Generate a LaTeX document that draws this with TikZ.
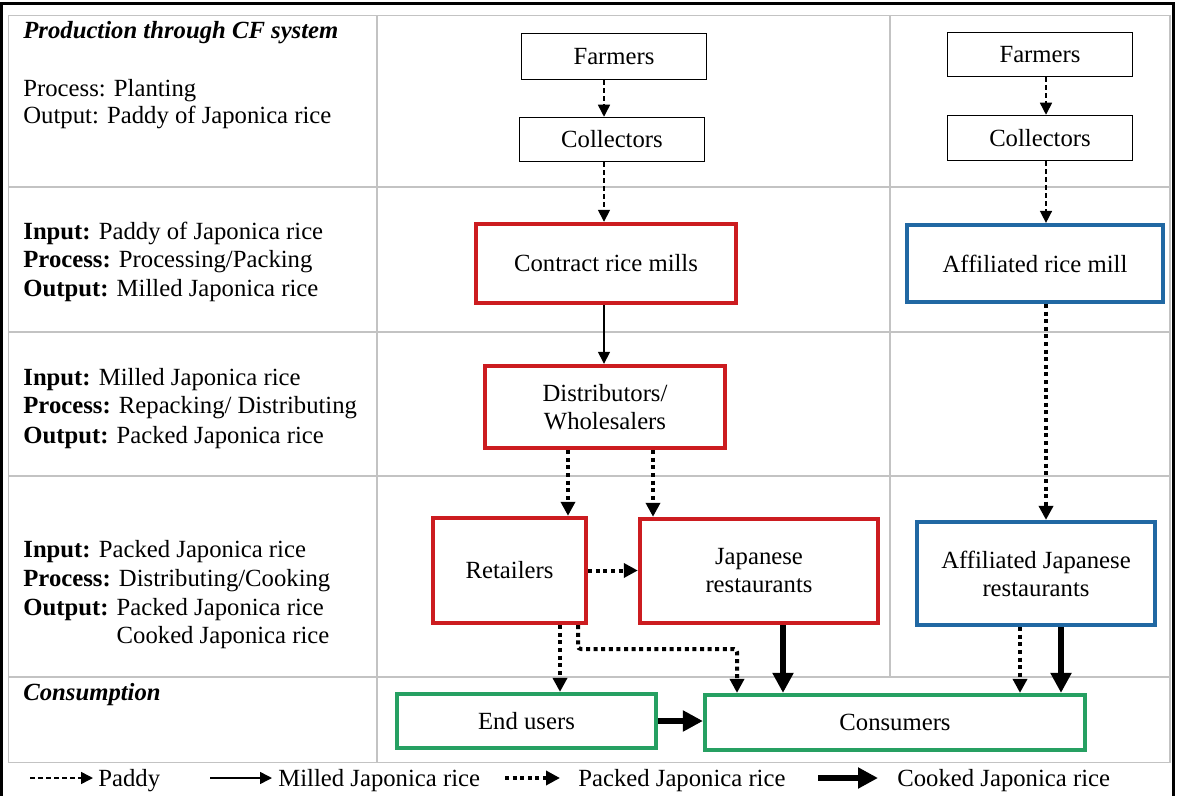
\documentclass[tikz,border=0pt]{standalone}
\usepackage{fontspec}
\setmainfont{Liberation Serif}
\usetikzlibrary{arrows.meta}
\definecolor{millred}{RGB}{204,28,32}
\definecolor{affblue}{RGB}{33,104,163}
\definecolor{endgreen}{RGB}{38,160,98}
\definecolor{gridgray}{RGB}{195,195,195}

\begin{document}
\begin{tikzpicture}[x=0.5pt,y=-0.5pt,
  font=\fontsize{12.35pt}{14pt}\selectfont,
  sz/.style 2 args={minimum width=#1*0.5pt, minimum height=#2*0.5pt},
  plainbox/.style={draw=black, line width=0.75pt, inner sep=0pt, align=center},
  redbox/.style={draw=millred, line width=2.2pt, inner sep=0pt, align=center},
  bluebox/.style={draw=affblue, line width=2.1pt, inner sep=0pt, align=center},
  greenbox/.style={draw=endgreen, line width=2.1pt, inner sep=0pt, align=center},
  rowtext/.style={anchor=base west, inner sep=0pt},
  paddy/.style={line width=0.75pt, dash pattern=on 2.5pt off 1.5pt, -{Triangle[length=6pt,width=6pt]}},
  milled/.style={line width=0.75pt, -{Triangle[length=6pt,width=6pt]}},
  packed/.style={line width=2pt, dash pattern=on 2pt off 1.8pt, -{Triangle[length=7pt,width=7pt]}},
  cooked/.style={line width=3.3pt, -{Triangle[length=10pt,width=10pt]}},
]
\useasboundingbox (0,0) rectangle (1177,796);
\fill[white] (0,0) rectangle (1177,796);

% outer frame
\draw[line width=1.5pt] (1.5,3.7) rectangle (1173,830);

% table grid
\begin{scope}[draw=gridgray, line width=0.75pt]
  \draw (8.5,15.5) rectangle (1170,762.5);
  \draw (377,15.5) -- (377,762.5);
  \draw (890,15.5) -- (890,677);
  \foreach \yy in {187,332,476,677} \draw (8.5,\yy) -- (1170,\yy);
\end{scope}

% stage descriptions
\node[rowtext] (r1t) at (23,39) {\textbf{\textit{Production through CF system}}};
\node[rowtext] (r1a) at (23,97) {Process: Planting};
\node[rowtext] (r1b) at (23,124) {Output: Paddy of Japonica rice};

\node[rowtext] (r2a) at (23,240) {\textbf{Input:} Paddy of Japonica rice};
\node[rowtext] (r2b) at (23,268) {\textbf{Process:} Processing/Packing};
\node[rowtext] (r2c) at (23,297) {\textbf{Output:} Milled Japonica rice};

\node[rowtext] (r3a) at (23,386) {\textbf{Input:} Milled Japonica rice};
\node[rowtext] (r3b) at (23,414) {\textbf{Process:} Repacking/ Distributing};
\node[rowtext] (r3c) at (23,443) {\textbf{Output:} Packed Japonica rice};

\node[rowtext] (r4a) at (23,557) {\textbf{Input:} Packed Japonica rice};
\node[rowtext] (r4b) at (23,586) {\textbf{Process:} Distributing/Cooking};
\node[rowtext] (r4c) at (23,615) {\textbf{Output:} Packed Japonica rice};
\node[rowtext] (r4d) at (23,643) {\phantom{\textbf{Output:} }Cooked Japonica rice};

\node[rowtext] (r5t) at (23,700) {\textbf{\textit{Consumption}}};

% contract-farming chain
\node[plainbox, sz={185}{46}] (farmL) at (614,56.5) {Farmers};
\node[plainbox, sz={185}{44}] (collL) at (612,139.5) {Collectors};
\node[redbox, sz={260}{79}] (mill) at (606,263.5) {Contract rice mills};
\node[redbox, sz={240}{82}] (dist) at (605,407) {Distributors/\\Wholesalers};
\node[redbox, sz={153}{105}] (retail) at (509.5,570.5) {Retailers};
\node[redbox, sz={238}{104}] (japan) at (759,571) {Japanese\\restaurants};

% affiliated chain
\node[plainbox, sz={185}{44}] (farmR) at (1040,54.5) {Farmers};
\node[plainbox, sz={185}{45}] (collR) at (1040,138) {Collectors};
\node[bluebox, sz={256}{77}] (affmill) at (1035,263.5) {Affiliated rice mill};
\node[bluebox, sz={238}{103}] (affjr) at (1036,573.5) {Affiliated Japanese\\restaurants};

% consumption
\node[greenbox, sz={259}{54}] (endu) at (526.5,721) {End users};
\node[greenbox, sz={380}{55}] (cons) at (895,722.5) {Consumers};

% trunk positions of the connectors
\coordinate (xa) at (604,0);
\coordinate (xb) at (1046,0);
\coordinate (xr) at (568,0);
\coordinate (xj) at (653,0);
\coordinate (xe) at (560,0);
\coordinate (xc) at (783,0);
\coordinate (xd) at (1020,0);
\coordinate (xf) at (1061,0);
\coordinate (k1) at (578,649);
\coordinate (k2) at (737,649);

% contract-farming flows
\draw[paddy] (farmL.south -| xa) -- (collL.north -| xa);
\draw[paddy] (collL.south -| xa) -- (mill.north -| xa);
\draw[milled] (mill.south -| xa) -- (dist.north -| xa);
\draw[packed] (dist.south -| xr) -- (retail.north -| xr);
\draw[packed] (dist.south -| xj) -- (japan.north -| xj);
\draw[packed] (retail.east) -- (japan.west |- retail.east);
\draw[packed] (retail.south -| xe) -- (endu.north -| xe);
\draw[packed, rounded corners=1.5pt] (retail.south -| k1) -- (k1) -- (k2) -- (cons.north -| k2);
\draw[cooked] (japan.south -| xc) -- (cons.north -| xc);
\draw[cooked] (endu.east) -- (cons.west |- endu.east);

% affiliated flows
\draw[paddy] (farmR.south -| xb) -- (collR.north -| xb);
\draw[paddy] (collR.south -| xb) -- (affmill.north -| xb);
\draw[packed] (affmill.south -| xb) -- (affjr.north -| xb);
\draw[packed] (affjr.south -| xd) -- (cons.north -| xd);
\draw[cooked] (affjr.south -| xf) -- (cons.north -| xf);

% legend
\coordinate (l1s) at (30,778);  \coordinate (l1e) at (93,778);
\coordinate (l2s) at (210,778); \coordinate (l2e) at (272,778);
\coordinate (l3s) at (505,778); \coordinate (l3e) at (560,778);
\coordinate (l4s) at (818,778); \coordinate (l4e) at (878,778);
\draw[paddy] (l1s) -- (l1e);
\draw[milled] (l2s) -- (l2e);
\draw[packed] (l3s) -- (l3e);
\draw[cooked] (l4s) -- (l4e);
\node[rowtext] (lt1) at (98,786) {Paddy};
\node[rowtext] (lt2) at (278,786) {Milled Japonica rice};
\node[rowtext] (lt3) at (578,786) {Packed Japonica rice};
\node[rowtext] (lt4) at (897,786) {Cooked Japonica rice};
\end{tikzpicture}
\end{document}
